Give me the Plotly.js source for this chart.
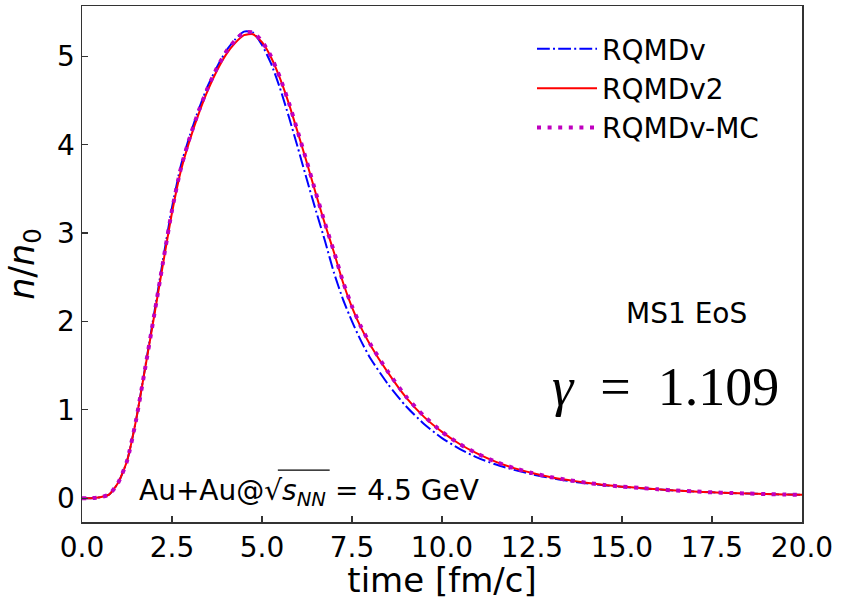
<!DOCTYPE html>
<html>
<head>
<meta charset="utf-8">
<script src="https://cdn.plot.ly/plotly-3.0.1.min.js"></script>
<style>html,body{margin:0;padding:0;background:#fff;}#chart{width:844px;height:600px;}</style>
</head>
<body>
<div id="chart"></div>
<script>
// time grid [fm/c]
const time = [0,0.25,0.5,0.75,1.0,1.25,1.5,1.75,2.0,2.25,2.5,2.75,3.0,3.25,3.5,3.75,4.0,4.25,4.5,4.75,5.0,5.25,5.5,5.75,6.0,6.25,6.5,6.75,7.0,7.25,7.5,7.75,8.0,8.5,9.0,9.5,10,10.5,11,11.5,12,12.5,13,13.5,14,14.5,15,15.5,16,16.5,17,17.5,18,18.5,19,19.5,20];

const rqmdv = [0.0,0.0,0.01,0.04,0.17,0.42,0.88,1.47,2.08,2.70,3.29,3.77,4.11,4.41,4.67,4.88,5.06,5.19,5.28,5.27,5.13,4.92,4.64,4.31,3.96,3.60,3.25,2.91,2.55,2.25,2.00,1.78,1.59,1.29,1.04,0.84,0.68,0.555,0.455,0.38,0.32,0.27,0.228,0.195,0.168,0.147,0.129,0.113,0.099,0.086,0.075,0.066,0.058,0.052,0.046,0.041,0.037];

const rqmdv2 = [0.0,0.0,0.01,0.04,0.17,0.42,0.88,1.46,2.05,2.65,3.23,3.71,4.06,4.36,4.62,4.84,5.02,5.15,5.24,5.25,5.16,4.99,4.75,4.46,4.13,3.79,3.44,3.10,2.78,2.44,2.16,1.93,1.74,1.42,1.14,0.92,0.75,0.61,0.50,0.41,0.34,0.285,0.24,0.205,0.175,0.15,0.13,0.115,0.10,0.086,0.076,0.066,0.058,0.052,0.046,0.041,0.037];

const rqmdvMC = [0.0,0.0,0.01,0.04,0.17,0.42,0.88,1.46,2.06,2.67,3.26,3.74,4.09,4.39,4.65,4.87,5.05,5.18,5.27,5.27,5.17,5.00,4.76,4.47,4.14,3.80,3.45,3.11,2.79,2.45,2.17,1.94,1.75,1.43,1.15,0.93,0.75,0.61,0.50,0.41,0.34,0.285,0.24,0.205,0.175,0.15,0.13,0.115,0.10,0.086,0.076,0.066,0.058,0.052,0.046,0.041,0.037];

const names = ['RQMDv','RQMDv2','RQMDv-MC'];
const xTicks = [0,2.5,5,7.5,10,12.5,15,17.5,20];
const yTicks = [0,1,2,3,4,5];

const traces = [
  {x: time, y: rqmdv, name: names[0], mode: 'lines', line: {color: '#0000ff', width: 2, dash: '12.8px,3.2px,2px,3.2px', shape: 'spline', smoothing: 0.6}},
  {x: time, y: rqmdv2, name: names[1], mode: 'lines', line: {color: '#ff0000', width: 2, shape: 'spline', smoothing: 0.6}},
  {x: time, y: rqmdvMC, name: names[2], mode: 'lines', line: {color: '#bf00bf', width: 4, dash: '4px,6.6px', shape: 'spline', smoothing: 0.6}}
];

const font = "'DejaVu Sans', sans-serif";
const layout = {
  width: 844, height: 600,
  margin: {l: 82, r: 42, t: 6, b: 78},
  paper_bgcolor: '#fff', plot_bgcolor: '#fff',
  showlegend: true,
  legend: {x: 0.625, xanchor: 'left', y: 0.965, yanchor: 'top', bgcolor: 'rgba(0,0,0,0)',
           font: {family: font, size: 28, color: '#000'}, itemwidth: 60, traceorder: 'normal'},
  xaxis: {range: [0, 20], tickvals: xTicks, tickformat: '.1f', ticks: 'inside', ticklen: 6, tickwidth: 1.2,
          tickcolor: '#333', showgrid: false, zeroline: false, showline: true, linecolor: '#333', linewidth: 1.5, mirror: true,
          tickfont: {family: font, size: 28, color: '#000'},
          title: {text: 'time [fm/c]', font: {family: font, size: 34, color: '#000'}, standoff: 8}},
  yaxis: {range: [-0.27, 5.57], tickvals: yTicks, ticks: 'inside', ticklen: 6, tickwidth: 1.2,
          tickcolor: '#333', showgrid: false, zeroline: false, showline: true, linecolor: '#333', linewidth: 1.5, mirror: true,
          tickfont: {family: font, size: 28, color: '#000'},
          title: {text: '<i>n</i>/<i>n</i><sub>0</sub>', font: {family: font, size: 35, color: '#000'}, standoff: 12}},
  annotations: [
    {xref: 'paper', yref: 'paper', x: 0.839, y: 0.405, xanchor: 'center', yanchor: 'middle', text: 'MS1 EoS', showarrow: false,
     font: {family: font, size: 28, color: '#000'}},
    {xref: 'paper', yref: 'paper', x: 0.811, y: 0.262, xanchor: 'center', yanchor: 'middle', text: '<i>γ</i>\u2002=\u20021.109', showarrow: false,
     font: {family: 'Liberation Serif, serif', size: 54, color: '#000'}},
    {xref: 'paper', yref: 'paper', x: 0.076, y: 0.058, xanchor: 'left', yanchor: 'middle', text: 'Au+Au@√<i>s</i><sub><i>NN</i></sub> = 4.5 GeV', showarrow: false,
     font: {family: font, size: 28, color: '#000'}}
  ],
  shapes: [
    {type: 'line', xref: 'paper', yref: 'paper', x0: 0.272, x1: 0.344, y0: 0.1007, y1: 0.1007, line: {color: '#000', width: 1.2}}
  ]
};

Plotly.newPlot('chart', traces, layout, {displayModeBar: false, staticPlot: true});
</script>
</body>
</html>
